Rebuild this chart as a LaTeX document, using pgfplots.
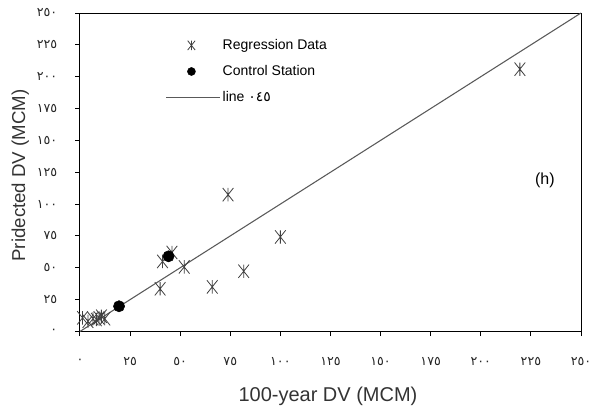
\documentclass[border=0pt]{standalone}
\usepackage{fontspec}
\setmainfont{Liberation Sans}
\newfontfamily\arabicfont[Script=Arabic]{DejaVu Sans}
\usepackage{pgfplots}
\pgfplotsset{compat=1.18}
% asterisk with a vertical bar and two steep diagonals, as in the reference
\pgfdeclareplotmark{xstar}{%
  \pgfpathmoveto{\pgfqpoint{0pt}{\pgfplotmarksize}}%
  \pgfpathlineto{\pgfqpoint{0pt}{-\pgfplotmarksize}}%
  \pgfpathmoveto{\pgfqpoint{-0.8\pgfplotmarksize}{\pgfplotmarksize}}%
  \pgfpathlineto{\pgfqpoint{0.8\pgfplotmarksize}{-\pgfplotmarksize}}%
  \pgfpathmoveto{\pgfqpoint{0.8\pgfplotmarksize}{\pgfplotmarksize}}%
  \pgfpathlineto{\pgfqpoint{-0.8\pgfplotmarksize}{-\pgfplotmarksize}}%
  \pgfusepathqstroke}
\pgfplotsset{
  markleg/.style={legend image code/.code={\draw[##1] plot coordinates {(0.66cm,0cm)};}},
  lineleg/.style={legend image code/.code={\draw[##1] (0cm,0cm) -- (1.4cm,0cm);}},
}

\begin{document}
\begin{tikzpicture}
\begin{axis}[
  scale only axis,
  width=376pt, height=239pt,
  xmin=0, xmax=250, ymin=0, ymax=250,
  xtick={0,25,...,250}, ytick={0,25,...,250},
  xticklabels={٠,٢٥,٥٠,٧٥,١٠٠,١٢٥,١٥٠,١٧٥,٢٠٠,٢٢٥,٢٥٠},
  yticklabels={٠,٢٥,٥٠,٧٥,١٠٠,١٢٥,١٥٠,١٧٥,٢٠٠,٢٢٥,٢٥٠},
  tick label style={font=\arabicfont\fontsize{9.5}{10}\selectfont, text=black!85},
  xticklabel style={anchor=center, yshift=-19pt},
  yticklabel style={anchor=east, xshift=-10pt},
  tick align=outside, major tick length=3.5pt,
  xtick pos=bottom, ytick pos=left,
  axis line style={black, line width=0.7pt},
  tick style={black, line width=0.7pt},
  xlabel={100-year DV (MCM)},
  ylabel={Pridected DV (MCM)},
  label style={font=\fontsize{14}{16}\selectfont, text=black!80},
  xlabel style={at={(axis description cs:0.495,-0.205)}, anchor=center,
    font=\fontsize{15}{17}\selectfont},
  ylabel style={at={(axis description cs:-0.119,0.49)}, anchor=center},
  legend style={at={(0.163,0.935)}, anchor=north west, draw=none, fill=none,
    font=\fontsize{10.5}{12}\selectfont, row sep=6.5pt},
  legend cell align=left,
  clip=false,
]
\addplot[only marks, mark=xstar, mark size=5pt, black!75, line width=0.6pt,
  markleg, legend image post style={mark size=3.5pt}]
  coordinates {
    (1.3,10.7) (4,8) (6.5,10) (8.2,9.4) (9.5,10.7) (10.7,12) (12.4,10)
    (40,33.5) (41.2,55) (45.9,62) (52,50.7) (66,35) (81.7,47.3)
    (100,74.2) (73.9,107.4) (219.5,205.9)
  };
\addlegendentry{Regression Data}
\addplot[only marks, mark=*, mark size=4.2pt, black,
  markleg, legend image post style={mark size=3pt}]
  coordinates {
    (19.5,19.8) (44.2,59)
  };
\addlegendentry{Control Station}
\addplot[black!65, line width=0.8pt, lineleg]
  coordinates {(0,0) (250,250)};
\addlegendentry{line {\arabicfont ٠٤٥}}
\node[font=\fontsize{12}{14}\selectfont] at (axis cs:232,119) {(h)};
\end{axis}
\pgfresetboundingbox
\path (current axis.south west) ++(-60pt,-56.25pt) coordinate (bl);
\path (current axis.north east) ++(9pt,9.75pt) coordinate (tr);
\path (bl) rectangle (tr);
\end{tikzpicture}
\end{document}
